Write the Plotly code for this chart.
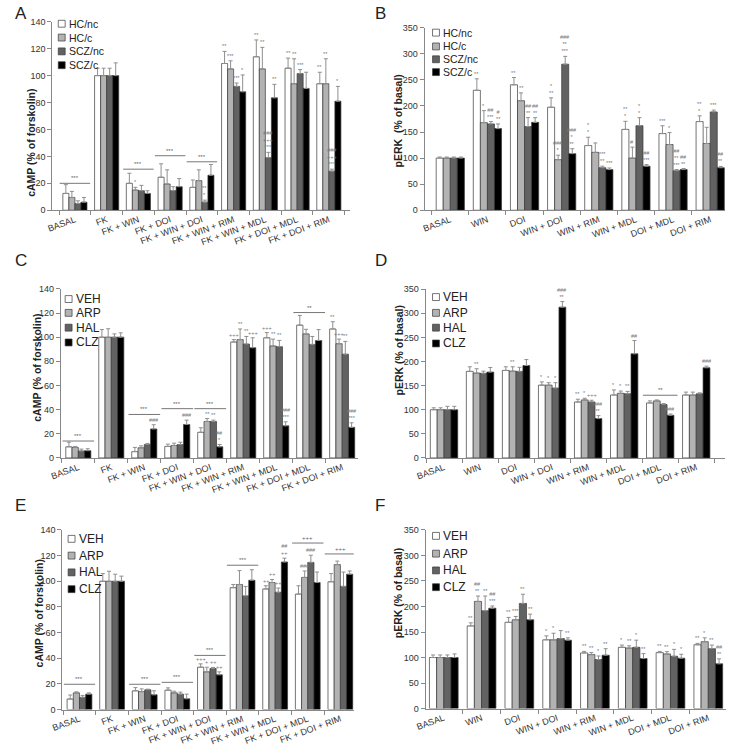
import plotly.graph_objects as go

W, H = 729, 755

# ---------------- categories & groups ----------------
CAMP_CATS = ["BASAL", "FK", "FK + WIN", "FK + DOI", "FK + WIN + DOI",
             "FK + WIN + RIM", "FK + WIN + MDL", "FK + DOI + MDL", "FK + DOI + RIM"]
PERK_CATS = ["BASAL", "WIN", "DOI", "WIN + DOI", "WIN + RIM",
             "WIN + MDL", "DOI + MDL", "DOI + RIM"]
GROUPS_AB = ["HC/nc", "HC/c", "SCZ/nc", "SCZ/c"]
GROUPS_CF = ["VEH", "ARP", "HAL", "CLZ"]

# ---------------- Panel A : cAMP, HC vs SCZ ----------------
A_HCnc = [12.5, 100, 20, 24.5, 17, 109, 114, 105.5, 94]
A_HCc = [9.5, 100, 15, 19.5, 22, 105, 105, 94, 94]
A_SCZnc = [5, 100, 14.5, 14.5, 6, 92, 39, 101.5, 29]
A_SCZc = [6, 100, 12.5, 17.5, 26, 88, 83.5, 90.5, 81]
A_HCnc_sd = [6.5, 5.5, 7.5, 10, 5.5, 9, 12.5, 7.5, 8.5]
A_HCc_sd = [4.5, 5.5, 2, 10.5, 8, 6, 16, 18.5, 18.5]
A_SCZnc_sd = [2, 5.5, 4, 3, 1.5, 2.5, 4, 3, 1.5]
A_SCZc_sd = [3.5, 9.5, 2, 6, 8, 12.5, 10, 12, 11]
A_HCnc_sig = ["", "", "", "", "", "**", "**", "**", "**"]
A_HCc_sig = ["", "", "*", "", "", "***", "**", "**", "**"]
A_SCZnc_sig = ["", "", "", "", "**<br>*", "***", "###<br>+++<br>***", "***", "###<br>+++<br>***"]
A_SCZc_sig = ["", "", "", "", "", "*", "**", "", "*"]
A_lines = [(0, 20, "***"), (2, 30.5, "***"), (3, 40.5, "***"), (4, 36, "***")]

# ---------------- Panel B : pERK, HC vs SCZ ----------------
B_HCnc = [100, 230, 240.5, 197.5, 124, 155, 147, 170]
B_HCc = [100, 168, 210, 97, 111, 100, 126, 128]
B_SCZnc = [100, 165.5, 160.5, 280, 81.5, 162, 75.5, 188.5]
B_SCZc = [100, 156.5, 168.5, 108.5, 78, 84.5, 78, 81.5]
B_HCnc_sd = [2, 22, 14, 18, 16, 15.5, 15, 11]
B_HCc_sd = [2, 23, 15, 8.5, 18, 21, 23, 31]
B_SCZnc_sd = [2, 4.5, 17, 15, 3, 15.5, 2.5, 3.5]
B_SCZc_sd = [2, 9, 9, 9.5, 3, 3, 2, 2.5]
B_HCnc_sig = ["", "**", "**", "*<br>**", "*<br>*", "**<br>*", "***", "**<br>*"]
B_HCc_sig = ["", "*", "**", "###<br>*", "", "#", "*", ""]
B_SCZnc_sig = ["", "##<br>***", "##<br>**", "###<br>**<br>***", "***<br>**", "*<br>*", "##<br>**<br>***", "***"]
B_SCZc_sig = ["", "#<br>**", "##<br>**", "###<br>*<br>**", "***", "##<br>***", "##<br>**", "##<br>**"]
B_lines = []

# ---------------- Panel C : cAMP, antipsychotics ----------------
C_VEH = [9.2, 100, 5.2, 9.5, 21.2, 96, 99.5, 110, 106.8]
C_ARP = [8.7, 100, 8.4, 10.3, 30.2, 98, 92.7, 102.7, 94.6]
C_HAL = [5.7, 100, 11.1, 11.1, 30.2, 94.3, 92.1, 94, 85.9]
C_CLZ = [6, 100, 24, 27.7, 9.2, 91.3, 26.6, 97.3, 25.3]
C_VEH_sd = [3.8, 6.3, 3.5, 1.9, 3.8, 2, 4.3, 8, 6]
C_ARP_sd = [0.8, 7, 1.6, 1.9, 2.4, 8.8, 5.7, 3.8, 3.8]
C_HAL_sd = [1.6, 2.7, 0.9, 1.9, 1.1, 6.3, 5.2, 6.6, 10.6]
C_CLZ_sd = [1.6, 3.6, 3.5, 3.6, 1.9, 8.2, 3.3, 9, 3.8]
C_VEH_sig = ["", "", "", "", "", "+++", "+++", "", "**"]
C_ARP_sig = ["", "", "", "", "**", "**", "**", "", "+++"]
C_HAL_sig = ["", "", "", "", "**", "**", "**", "", "**"]
C_CLZ_sig = ["", "", "###", "###", "##<br>*", "+++", "###<br>***", "", "###<br>***"]
C_lines = [(0, 14, "***"), (2, 36, "***"), (3, 40.8, "***"), (4, 40.8, "***"), (7, 120.4, "**")]

# ---------------- Panel D : pERK, antipsychotics ----------------
D_VEH = [100, 179.5, 181.5, 151, 116, 130.5, 114, 130.5]
D_ARP = [100, 176, 180, 151, 120.3, 134, 118.3, 130.5]
D_HAL = [100, 175.4, 179.5, 144.8, 116, 133, 110.8, 133]
D_CLZ = [100, 178, 191.7, 312.7, 81.6, 216, 88.4, 187]
D_VEH_sd = [4, 9.5, 7.5, 6.7, 5.7, 10.5, 4.3, 6]
D_ARP_sd = [4, 9, 9, 5, 3.4, 4.7, 2, 6]
D_HAL_sd = [7, 4.6, 8.5, 11.2, 3.6, 5, 2, 2]
D_CLZ_sd = [7, 9.6, 12.3, 11.6, 6.1, 27.4, 2.6, 3.3]
D_VEH_sig = ["", "", "", "*", "**", "*", "", ""]
D_ARP_sig = ["", "**", "**", "*", "*", "*", "", ""]
D_HAL_sig = ["", "", "", "*", "+++", "**", "", ""]
D_CLZ_sig = ["", "", "", "###<br>**", "###<br>**", "##", "###", "###"]
D_lines = [(6, 130, "**")]

# ---------------- Panel E : cAMP, antipsychotics (2) ----------------
E_VEH = [8.2, 100, 14.6, 15.1, 33, 95, 94, 90, 99.6]
E_ARP = [13, 100, 14, 13, 29.4, 97.5, 99, 103, 113]
E_HAL = [9.5, 100, 15.4, 12, 32, 88.6, 91.4, 114.7, 96]
E_CLZ = [12, 100, 11.5, 8.4, 27.1, 100.8, 115, 99, 105.5]
E_VEH_sd = [3.1, 6, 2.5, 1.8, 2.6, 2.5, 2.5, 6.5, 6.4]
E_ARP_sd = [0.8, 7.8, 2.1, 1.3, 3.6, 10.8, 2.4, 5, 2.7]
E_HAL_sd = [1.5, 5.5, 0.5, 1.6, 0.8, 7.4, 3.3, 5.6, 11.2]
E_CLZ_sd = [1, 4, 3.1, 3.6, 2.3, 8.2, 3, 8.2, 2.5]
E_VEH_sig = ["", "", "", "", "+++", "", "++", "", ""]
E_ARP_sig = ["", "", "", "", "+", "", "++", "###", ""]
E_HAL_sig = ["", "", "", "", "++", "", "++", "###", ""]
E_CLZ_sig = ["", "", "", "", "++", "", "##<br>++", "", ""]
E_lines = [(0, 19.7, "***"), (2, 19.7, "***"), (3, 21.2, "***"), (4, 42.2, "***"),
           (5, 112.5, "***"), (7, 129.8, "+++"), (8, 121.3, "+++")]

# ---------------- Panel F : pERK, antipsychotics (2) ----------------
F_VEH = [100, 162, 169, 134.7, 109, 120, 109.6, 125]
F_ARP = [100, 210, 174, 134.7, 105.7, 118.6, 107, 131]
F_HAL = [100, 191.5, 206, 137.3, 96, 120, 102.5, 117.3]
F_CLZ = [100, 196.6, 174, 134, 104.5, 98, 98.6, 87.7]
F_VEH_sd = [5, 6, 9.6, 7.8, 3, 4.4, 2.4, 2.7]
F_ARP_sd = [5, 10.5, 6.5, 12.9, 3.9, 4.4, 4.5, 7.6]
F_HAL_sd = [5, 29, 18, 15.5, 7, 14, 13.5, 7.1]
F_CLZ_sd = [7, 4.4, 11, 4.6, 12.8, 9.7, 7.8, 9.7]
F_VEH_sig = ["", "**", "**", "*", "**", "*", "**", "**"]
F_ARP_sig = ["", "##<br>**", "***", "*", "**", "**", "**", "*"]
F_HAL_sig = ["", "**", "**", "", "*", "*", "*", "**"]
F_CLZ_sig = ["", "##<br>***", "**", "**", "**", "**", "*", "##<br>**"]
F_lines = []

# ---------------- styling ----------------
FILL = ["#ffffff", "#b3b3b3", "#626262", "#000000"]
FONT = "Liberation Sans, Arial, sans-serif"
CAMP_TITLE = "cAMP (% of forskolin)"
PERK_TITLE = "pERK  (% of basal)"
PERK_TITLE2 = "pERK (% of basal)"

panels = [
    dict(label="A", cats=CAMP_CATS, groups=GROUPS_AB,
         means=[A_HCnc, A_HCc, A_SCZnc, A_SCZc], sds=[A_HCnc_sd, A_HCc_sd, A_SCZnc_sd, A_SCZc_sd],
         sigs=[A_HCnc_sig, A_HCc_sig, A_SCZnc_sig, A_SCZc_sig], lines=A_lines,
         title=CAMP_TITLE, ymax=140, dtick=20, xpx=(42, 344), ypx=(17, 208), xr=(-0.71, 8.66),
         leg=(48, 57, [19, 33, 47, 61]), legfont=10.5, tpos=(20, 140), lpos=(2, -3)),
    dict(label="B", cats=PERK_CATS, groups=GROUPS_AB,
         means=[B_HCnc, B_HCc, B_SCZnc, B_SCZc], sds=[B_HCnc_sd, B_HCc_sd, B_SCZnc_sd, B_SCZc_sd],
         sigs=[B_HCnc_sig, B_HCc_sig, B_SCZnc_sig, B_SCZc_sig], lines=B_lines,
         title=PERK_TITLE, ymax=350, dtick=50, xpx=(420, 725), ypx=(23, 208), xr=(-0.69, 7.4),
         leg=(428, 437, [28, 42, 55, 68]), legfont=10.5, tpos=(393, 118), lpos=(368, -3)),
    dict(label="C", cats=CAMP_CATS, groups=GROUPS_CF,
         means=[C_VEH, C_ARP, C_HAL, C_CLZ], sds=[C_VEH_sd, C_ARP_sd, C_HAL_sd, C_CLZ_sd],
         sigs=[C_VEH_sig, C_ARP_sig, C_HAL_sig, C_CLZ_sig], lines=C_lines,
         title=CAMP_TITLE, ymax=140, dtick=20, xpx=(50.6, 352), ypx=(287.7, 459), xr=(-0.53, 8.47),
         leg=(55, 64, [298, 312, 327, 342]), legfont=12, tpos=(27, 368), lpos=(2, 247)),
    dict(label="D", cats=PERK_CATS, groups=GROUPS_CF,
         means=[D_VEH, D_ARP, D_HAL, D_CLZ], sds=[D_VEH_sd, D_ARP_sd, D_HAL_sd, D_CLZ_sd],
         sigs=[D_VEH_sig, D_ARP_sig, D_HAL_sig, D_CLZ_sig], lines=D_lines,
         title=PERK_TITLE2, ymax=350, dtick=50, xpx=(421, 725), ypx=(288, 459), xr=(-0.51, 7.8),
         leg=(428, 437, [296, 312, 327, 343]), legfont=12, tpos=(394, 350), lpos=(368, 247)),
    dict(label="E", cats=CAMP_CATS, groups=GROUPS_CF,
         means=[E_VEH, E_ARP, E_HAL, E_CLZ], sds=[E_VEH_sd, E_ARP_sd, E_HAL_sd, E_CLZ_sd],
         sigs=[E_VEH_sig, E_ARP_sig, E_HAL_sig, E_CLZ_sig], lines=E_lines,
         title=CAMP_TITLE, ymax=140, dtick=20, xpx=(52, 348), ypx=(532, 714), xr=(-0.53, 8.41),
         leg=(58, 67, [541, 558, 575, 592]), legfont=12, tpos=(28, 617), lpos=(2, 496)),
    dict(label="F", cats=PERK_CATS, groups=GROUPS_CF,
         means=[F_VEH, F_ARP, F_HAL, F_CLZ], sds=[F_VEH_sd, F_ARP_sd, F_HAL_sd, F_CLZ_sd],
         sigs=[F_VEH_sig, F_ARP_sig, F_HAL_sig, F_CLZ_sig], lines=F_lines,
         title=PERK_TITLE2, ymax=350, dtick=50, xpx=(421, 726), ypx=(532, 713), xr=(-0.48, 7.47),
         leg=(428, 437, [538, 556, 573, 590]), legfont=12, tpos=(393, 596), lpos=(368, 496)),
]

BARW = 0.19
SW = 7  # legend swatch size (px)
fig = go.Figure()
layout = dict(width=W, height=H, margin=dict(l=0, r=0, t=0, b=0),
              paper_bgcolor="white", plot_bgcolor="white", barmode="overlay",
              showlegend=False, font=dict(family=FONT, color="#222"))
annotations, shapes = [], []


def px_x(v):
    return v / W


def px_y(v):
    return 1 - v / H


for k, p in enumerate(panels):
    sfx = "" if k == 0 else str(k + 1)
    xa, ya = "x" + sfx, "y" + sfx
    n = len(p["cats"])
    sx, tx, rows = p["leg"]
    for i, g in enumerate(p["groups"]):
        fig.add_trace(go.Bar(
            x=p["cats"], y=p["means"][i], name=g,
            width=BARW, offset=-2 * BARW + i * BARW,
            marker=dict(color=FILL[i], line=dict(color="#3a3a3a", width=0.7)),
            error_y=dict(type="data", symmetric=False, array=p["sds"][i],
                         arrayminus=[0] * n, color="#8f8f8f", thickness=1, width=2),
            xaxis=xa, yaxis=ya,
        ))
        # significance marks above each bar
        for j in range(n):
            t = p["sigs"][i][j]
            if t:
                annotations.append(dict(
                    x=j - 2 * BARW + i * BARW + BARW / 2, y=p["means"][i][j] + p["sds"][i][j],
                    xref=xa, yref=ya, text=t, showarrow=False, xanchor="center",
                    yanchor="bottom", font=dict(size=5.5, color="#777")))
        # legend entry (swatch + label)
        cy = rows[i]
        shapes.append(dict(type="rect", xref="paper", yref="paper",
                           x0=px_x(sx), x1=px_x(sx + SW), y0=px_y(cy + SW / 2), y1=px_y(cy - SW / 2),
                           fillcolor=FILL[i], line=dict(color="#3a3a3a", width=0.7)))
        annotations.append(dict(x=px_x(tx), y=px_y(cy), xref="paper", yref="paper", text=g,
                                showarrow=False, xanchor="left", yanchor="middle",
                                font=dict(size=p["legfont"], color="#222")))
    # comparison lines
    for (ci, yv, t) in p["lines"]:
        shapes.append(dict(type="line", xref=xa, yref=ya, x0=ci - 0.48, x1=ci + 0.48,
                           y0=yv, y1=yv, line=dict(color="#777", width=1)))
        annotations.append(dict(x=ci, y=yv, xref=xa, yref=ya, text=t, showarrow=False,
                                xanchor="center", yanchor="bottom",
                                font=dict(size=6, color="#666")))
    x0, x1 = p["xpx"]
    ytop, ybot = p["ypx"]
    layout["xaxis" + sfx] = dict(
        domain=[px_x(x0), px_x(x1)], anchor=ya, type="category", range=list(p["xr"]),
        tickson="boundaries", ticks="outside", ticklen=4, tickcolor="#888",
        showline=True, linecolor="#888", linewidth=1, tickangle=-20,
        tickfont=dict(size=9, color="#333"), showgrid=False, zeroline=False)
    layout["yaxis" + sfx] = dict(
        domain=[px_y(ybot), px_y(ytop)], anchor=xa, range=[0, p["ymax"]], dtick=p["dtick"],
        ticks="outside", ticklen=4, tickcolor="#888", showline=True, linecolor="#888",
        linewidth=1, tickfont=dict(size=9, color="#333"), showgrid=False, zeroline=False)
    annotations.append(dict(x=px_x(p["tpos"][0]), y=px_y(p["tpos"][1]), xref="paper",
                            yref="paper", text="<b>" + p["title"] + "</b>", textangle=-90,
                            xanchor="center", yanchor="middle", showarrow=False,
                            font=dict(size=10.5, color="#222")))
    annotations.append(dict(x=px_x(p["lpos"][0]), y=px_y(p["lpos"][1]), xref="paper",
                            yref="paper", text=p["label"], showarrow=False, xanchor="left",
                            yanchor="top", font=dict(size=17, color="#222")))

layout["annotations"] = annotations
layout["shapes"] = shapes
fig.update_layout(**layout)
fig.write_html("out.html", config={"displayModeBar": False},
               post_script="document.body.style.margin='0px';document.body.style.overflow='hidden';")
